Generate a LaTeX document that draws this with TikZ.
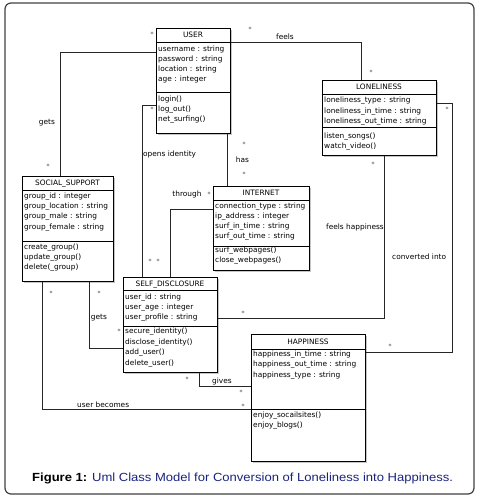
\documentclass[tikz,border=0pt]{standalone}
\usepackage{fontspec}
\setmainfont{Liberation Sans}
\newfontfamily\umlfont{DejaVu Sans}
\newfontfamily\capfont[FakeStretch=1.105]{Liberation Sans}
\usetikzlibrary{shadows}
\definecolor{capblue}{HTML}{1A237E}
\definecolor{framegray}{HTML}{404040}
\tikzset{
  cls/.style={draw=black, line width=0.7pt, fill=white, inner sep=0pt, anchor=north west,
    drop shadow={shadow xshift=1.3pt, shadow yshift=-1.3pt, opacity=0.45, fill=gray}},
  sepline/.style={draw=black, line width=0.6pt},
  conn/.style={draw=black!85, line width=0.6pt},
  txt/.style={font=\umlfont\fontsize{7.4}{9}\selectfont, inner sep=0pt, anchor=base west},
  ttl/.style={font=\umlfont\fontsize{7.4}{9}\selectfont, inner sep=0pt, anchor=base},
  lbl/.style={font=\umlfont\fontsize{7.4}{9}\selectfont, inner sep=0pt, anchor=base},
  lblw/.style={font=\umlfont\fontsize{7.4}{9}\selectfont, inner sep=0pt, anchor=base west},
  mult/.style={font=\umlfont\fontsize{6}{7}\selectfont, inner sep=0pt, anchor=base, text=black!80},
}
\begin{document}
\begin{tikzpicture}[x=1pt,y=-1pt]
\useasboundingbox (0,0) rectangle (479,498);
\draw[framegray, line width=1.2pt, rounded corners=6pt] (5,3) rectangle (474,494);

% ---------- USER ----------
\node[cls, minimum width=74pt, minimum height=105pt] (user) at (156,28) {};
\node[ttl] (user-t) at (193,37.5) {USER};
\draw[sepline] (user.west |- 0,42) -- (user.east |- 0,42);
\draw[sepline] (user.west |- 0,92) -- (user.east |- 0,92);
\foreach \t [count=\i from 0] in {username : string, password : string, location : string, age : integer}
  \node[txt] (user-a\i) at (158,{51+10*\i}) {\t};
\foreach \t [count=\i from 0] in {login(), log\_out(), net\_surfing()}
  \node[txt] (user-m\i) at (158,{101+10*\i}) {\t};

% ---------- LONELINESS ----------
\node[cls, minimum width=114pt, minimum height=75pt] (lon) at (322,80) {};
\node[ttl] (lon-t) at (379,89.8) {LONELINESS};
\draw[sepline] (lon.west |- 0,94) -- (lon.east |- 0,94);
\draw[sepline] (lon.west |- 0,127) -- (lon.east |- 0,127);
\foreach \t [count=\i from 0] in {loneliness\_type : string, loneliness\_in\_time : string, loneliness\_out\_time : string}
  \node[txt] (lon-a\i) at (324,{102.5+10.5*\i}) {\t};
\foreach \t [count=\i from 0] in {listen\_songs(), watch\_video()}
  \node[txt] (lon-m\i) at (324,{138+10.5*\i}) {\t};

% ---------- INTERNET ----------
\node[cls, minimum width=96pt, minimum height=84pt] (net) at (213,186) {};
\node[ttl] (net-t) at (261,195.5) {INTERNET};
\draw[sepline] (net.west |- 0,200) -- (net.east |- 0,200);
\draw[sepline] (net.west |- 0,246) -- (net.east |- 0,246);
\foreach \t [count=\i from 0] in {connection\_type : string, ip\_address : integer, surf\_in\_time : string, surf\_out\_time : string}
  \node[txt] (net-a\i) at (215,{208+10.2*\i}) {\t};
\foreach \t [count=\i from 0] in {surf\_webpages(), close\_webpages()}
  \node[txt] (net-m\i) at (215,{252+10*\i}) {\t};

% ---------- SOCIAL_SUPPORT ----------
\node[cls, minimum width=91pt, minimum height=105pt] (soc) at (22,176) {};
\node[ttl] (soc-t) at (67.5,185.5) {SOCIAL\_SUPPORT};
\draw[sepline] (soc.west |- 0,190) -- (soc.east |- 0,190);
\draw[sepline] (soc.west |- 0,241) -- (soc.east |- 0,241);
\foreach \t [count=\i from 0] in {group\_id : integer, group\_location : string, group\_male : string, group\_female : string}
  \node[txt] (soc-a\i) at (24,{198.5+10.2*\i}) {\t};
\foreach \t [count=\i from 0] in {create\_group(), update\_group(), delete(\_group)}
  \node[txt] (soc-m\i) at (24,{249.5+10.2*\i}) {\t};

% ---------- SELF_DISCLOSURE ----------
\node[cls, minimum width=94pt, minimum height=95pt] (self) at (123,277) {};
\node[ttl] (self-t) at (170,286) {SELF\_DISCLOSURE};
\draw[sepline] (self.west |- 0,290) -- (self.east |- 0,290);
\draw[sepline] (self.west |- 0,326) -- (self.east |- 0,326);
\foreach \t [count=\i from 0] in {user\_id : string, user\_age : integer, user\_profile : string}
  \node[txt] (self-a\i) at (125,{299+10*\i}) {\t};
\foreach \t [count=\i from 0] in {secure\_identity(), disclose\_identity(), add\_user(), delete\_user()}
  \node[txt] (self-m\i) at (125,{333.5+10.5*\i}) {\t};

% ---------- HAPPINESS ----------
\node[cls, minimum width=114pt, minimum height=127pt] (hap) at (251,334) {};
\node[ttl] (hap-t) at (308,344) {HAPPINESS};
\draw[sepline] (hap.west |- 0,349) -- (hap.east |- 0,349);
\draw[sepline] (hap.west |- 0,409) -- (hap.east |- 0,409);
\foreach \t [count=\i from 0] in {happiness\_in\_time : string, happiness\_out\_time : string, happiness\_type : string}
  \node[txt] (hap-a\i) at (253,{356.5+10.3*\i}) {\t};
\foreach \t [count=\i from 0] in {enjoy\_socailsites(), enjoy\_blogs()}
  \node[txt] (hap-m\i) at (253,{417+10.5*\i}) {\t};

% ---------- connectors ----------
% feels
\draw[conn] (user.east |- 0,42) -| (lon.north -| 361,0);
\node[lbl] (l-feels) at (285,39) {feels};
\node[mult] (m-feels1) at (250,31.5) {*};
\node[mult] (m-feels2) at (371,74.5) {*};
% gets (user - social)
\draw[conn] (user.west |- 0,52) -| (soc.north -| 60,0);
\node[lbl] (l-gets1) at (47,124) {gets};
\node[mult] (m-gets1a) at (152,36.5) {*};
\node[mult] (m-gets1b) at (48,168.5) {*};
% opens identity
\draw[conn] (user.west |- 0,105) -| (self.north -| 142,0);
\node[lblw] (l-opens) at (143,156.5) {opens identity};
\node[mult] (m-open1) at (152,111.5) {*};
\node[mult] (m-open2) at (150,263.5) {*};
% has
\draw[conn] (user.south -| 227,0) -- (net.north -| 227,0);
\node[lbl] (l-has) at (242.5,162.5) {has};
\node[mult] (m-has1) at (244,146.5) {*};
\node[mult] (m-has2) at (244,176.5) {*};
% through
\draw[conn] (net.west |- 0,209) -| (self.north -| 170,0);
\node[lbl] (l-through) at (187,196.5) {through};
\node[mult] (m-thr1) at (209,196.5) {*};
\node[mult] (m-thr2) at (158,263.5) {*};
% feels happiness
\draw[conn] (lon.south -| 384,0) |- (self.east |- 0,318);
\node[lblw] (l-feelsh) at (326,229.5) {feels happiness};
\node[mult] (m-fh1) at (373,166.5) {*};
\node[mult] (m-fh2) at (243,315.5) {*};
% converted into
\draw[conn] (lon.east |- 0,103) -- (452,103) -- (452,352) -- (hap.east |- 0,352);
\node[lblw] (l-conv) at (392,259.5) {converted into};
\node[mult] (m-conv1) at (447,111.5) {*};
\node[mult] (m-conv2) at (390,348.5) {*};
% gets (social - self)
\draw[conn] (soc.south -| 89,0) |- (self.west |- 0,348);
\node[lbl] (l-gets2) at (99,319.5) {gets};
\node[mult] (m-gets2a) at (99,295.5) {*};
\node[mult] (m-gets2b) at (119,333.5) {*};
% user becomes
\draw[conn] (soc.south -| 42,0) |- (hap.west |- 0,409);
\node[lblw] (l-ub) at (77,407.5) {user becomes};
\node[mult] (m-ub1) at (51,295.5) {*};
\node[mult] (m-ub2) at (243,408) {*};
% gives
\draw[conn] (self.south -| 199,0) |- (hap.west |- 0,386);
\node[lbl] (l-gives) at (222,383.5) {gives};
\node[mult] (m-giv1) at (187,381.5) {*};
\node[mult] (m-giv2) at (241,394.5) {*};

% ---------- caption ----------
\node[anchor=base west, inner sep=0pt, font=\capfont\fontsize{11.8}{13}\selectfont] (caption) at (32,481.5)
  {\textbf{Figure 1:} \textcolor{capblue}{Uml Class Model for Conversion of Loneliness into Happiness.}};
\end{tikzpicture}
\end{document}
